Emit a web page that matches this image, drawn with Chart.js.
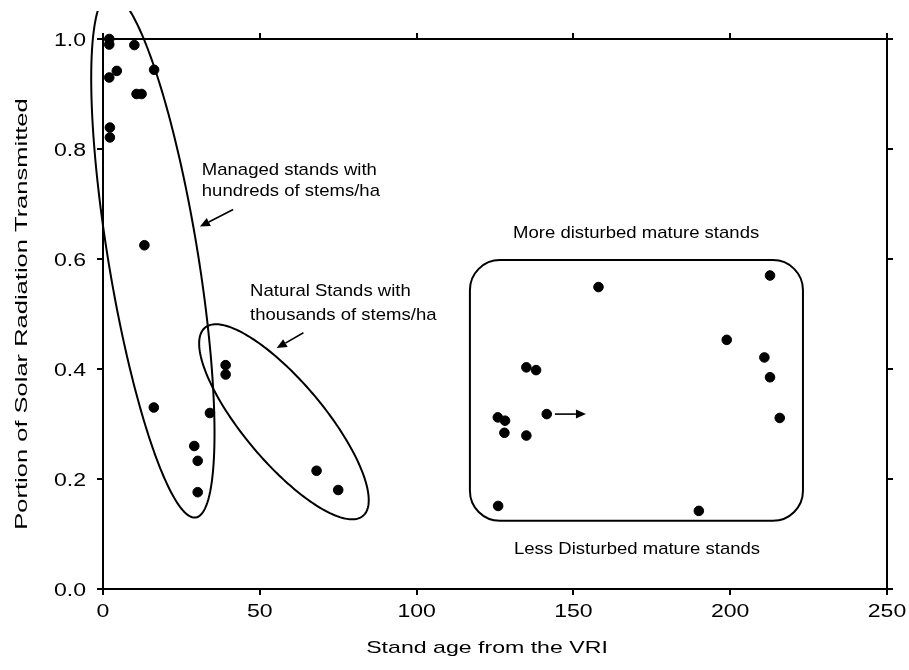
<!DOCTYPE html>
<html>
<head>
<meta charset="utf-8">
<script src="https://cdn.jsdelivr.net/npm/chart.js@4/dist/chart.umd.min.js"></script>
<style>
  html, body { margin: 0; padding: 0; background: #fff; }
  #wrap { width: 909px; height: 670px; }
</style>
</head>
<body>
<div id="wrap"><canvas id="standChart" width="909" height="670"></canvas></div>
<script>
// stand age (years, from the VRI) and fraction of solar radiation transmitted
var ages = [2, 2, 10, 2, 4.4, 16.3, 10.7, 12.3, 2.2, 2.2, 13.2, 16.2, 34.1, 39.1, 39.1,
  29.1, 30.2, 30.2, 68.1, 75, 212.7, 158, 198.9, 210.9, 212.7, 215.8, 135, 138.1,
  141.5, 125.9, 128.2, 128, 135, 126, 190];
var transmitted = [1.0, 0.99, 0.989, 0.93, 0.942, 0.944, 0.90, 0.90, 0.839, 0.821, 0.625,
  0.33, 0.32, 0.407, 0.39, 0.26, 0.233, 0.176, 0.215, 0.18, 0.57, 0.549, 0.453, 0.421,
  0.385, 0.311, 0.403, 0.398, 0.318, 0.312, 0.306, 0.284, 0.279, 0.151, 0.142];

var xTicks = [0, 50, 100, 150, 200, 250];
var yTicks = [0, 0.2, 0.4, 0.6, 0.8, 1.0];

var xTitle = 'Stand age from the VRI';
var yTitle = 'Portion of Solar Radiation Transmitted';

// group outlines, in data units: centre plus two conjugate half-axes
var managedRing = { cx: 15.9, cy: 0.606, ax: -13.7, ay: 0.476, bx: 14.1, by: 0.013 };
var naturalRing = { cx: 57.7, cy: 0.304, ax: 25.2, ay: -0.171, bx: 9.8, by: 0.047 };
var matureBox = { x0: 117, x1: 223.2, y0: 0.124, y1: 0.598 };

var pointers = [
  { from: [41.5, 0.690], to: [30.9, 0.659] },
  { from: [63.9, 0.466], to: [55.4, 0.438] },
  { from: [144.1, 0.318], to: [154.0, 0.318] }
];

var notes = [
  { text: 'Managed stands with', at: [31.5, 0.764], align: 'left' },
  { text: 'hundreds of stems/ha', at: [31.5, 0.725], align: 'left' },
  { text: 'Natural Stands with', at: [46.9, 0.544], align: 'left' },
  { text: 'thousands of stems/ha', at: [46.9, 0.500], align: 'left' },
  { text: 'More disturbed mature stands', at: [170, 0.6485], align: 'center' },
  { text: 'Less Disturbed mature stands', at: [170.3, 0.074], align: 'center' }
];

var FONT = "'Liberation Sans', Arial, sans-serif";

// text is set a little wide, as in the printed figure
function wideText(ctx, text, x, y, opt) {
  ctx.save();
  ctx.font = opt.size + 'px ' + FONT;
  ctx.textAlign = opt.align || 'center';
  ctx.textBaseline = 'alphabetic';
  ctx.translate(x, y);
  if (opt.vertical) ctx.rotate(-Math.PI / 2);
  ctx.scale(opt.stretch || 1, 1);
  // y is the middle of the capitals
  ctx.fillText(text, 0, opt.size * 0.358);
  ctx.restore();
}

var groupsPlugin = {
  id: 'groups',
  afterDatasetsDraw: function (chart) {
    var ctx = chart.ctx;
    var sx = chart.scales.x, sy = chart.scales.y;
    function px(v) { return sx.getPixelForValue(v); }
    function py(v) { return sy.getPixelForValue(v); }

    ctx.save();
    ctx.beginPath();
    ctx.rect(0, chart.chartArea.top - 28, chart.width, chart.height);
    ctx.clip();
    ctx.strokeStyle = '#000';
    ctx.fillStyle = '#000';
    ctx.lineWidth = 2;

    [managedRing, naturalRing].forEach(function (r) {
      ctx.beginPath();
      for (var i = 0; i <= 240; i++) {
        var t = i / 240 * Math.PI * 2;
        var X = px(r.cx + r.ax * Math.cos(t) + r.bx * Math.sin(t));
        var Y = py(r.cy + r.ay * Math.cos(t) + r.by * Math.sin(t));
        if (i === 0) ctx.moveTo(X, Y); else ctx.lineTo(X, Y);
      }
      ctx.closePath();
      ctx.stroke();
    });

    var bx0 = px(matureBox.x0), bx1 = px(matureBox.x1);
    var by0 = py(matureBox.y1), by1 = py(matureBox.y0);
    ctx.beginPath();
    ctx.roundRect(bx0, by0, bx1 - bx0, by1 - by0, 30);
    ctx.stroke();

    ctx.lineWidth = 1.6;
    pointers.forEach(function (a) {
      var x0 = px(a.from[0]), y0 = py(a.from[1]);
      var x1 = px(a.to[0]), y1 = py(a.to[1]);
      var ang = Math.atan2(y1 - y0, x1 - x0);
      var len = 10, half = 4.5;
      var bxp = x1 - len * Math.cos(ang), byp = y1 - len * Math.sin(ang);
      ctx.beginPath();
      ctx.moveTo(x0, y0);
      ctx.lineTo(bxp, byp);
      ctx.stroke();
      ctx.beginPath();
      ctx.moveTo(x1, y1);
      ctx.lineTo(bxp + half * Math.sin(ang), byp - half * Math.cos(ang));
      ctx.lineTo(bxp - half * Math.sin(ang), byp + half * Math.cos(ang));
      ctx.closePath();
      ctx.fill();
    });
    ctx.restore();

    ctx.fillStyle = '#000';
    notes.forEach(function (n) {
      wideText(ctx, n.text, px(n.at[0]), py(n.at[1]), { size: 17, stretch: 1.09, align: n.align });
    });
  },
  afterDraw: function (chart) {
    var ctx = chart.ctx;
    var sx = chart.scales.x, sy = chart.scales.y;
    ctx.fillStyle = '#000';
    xTicks.forEach(function (v) {
      wideText(ctx, String(v), sx.getPixelForValue(v), sx.top + 22, { size: 18, stretch: 1.28 });
    });
    yTicks.forEach(function (v) {
      wideText(ctx, v.toFixed(1), sy.right - 17, sy.getPixelForValue(v) + 1,
        { size: 18, stretch: 1.28, align: 'right' });
    });
    wideText(ctx, xTitle, (sx.left + sx.right) / 2 - 8, sx.top + 58, { size: 17, stretch: 1.36 });
    wideText(ctx, yTitle, 21, (sy.top + sy.bottom) / 2, { size: 17, stretch: 1.5, vertical: true });
  }
};

function edgeAxis(position, size, ticks, extra) {
  var axis = {
    type: 'linear',
    position: position,
    grid: { drawOnChartArea: false, drawTicks: true, tickLength: 6, color: '#000', lineWidth: 2 },
    border: { display: true, color: '#000', width: 2 },
    ticks: { display: false },
    afterBuildTicks: function (s) { s.ticks = ticks.map(function (v) { return { value: v }; }); },
    afterFit: function (s) {
      if (position === 'left' || position === 'right') s.width = size; else s.height = size;
    }
  };
  return Object.assign(axis, extra);
}

new Chart(document.getElementById('standChart').getContext('2d'), {
  type: 'scatter',
  data: {
    datasets: [{
      data: ages.map(function (a, i) { return { x: a, y: transmitted[i] }; }),
      backgroundColor: '#000',
      borderColor: '#000',
      pointRadius: 4.8,
      pointHoverRadius: 4.8,
      clip: false
    }]
  },
  options: {
    responsive: false,
    animation: false,
    devicePixelRatio: 1,
    layout: { padding: 0 },
    plugins: { legend: { display: false }, tooltip: { enabled: false } },
    scales: {
      x: edgeAxis('bottom', 81, xTicks, { min: 0, max: 250 }),
      x2: edgeAxis('top', 39, xTicks, { min: 0, max: 250 }),
      y: edgeAxis('left', 103, yTicks, { min: 0, max: 1 }),
      y2: edgeAxis('right', 22, yTicks, { min: 0, max: 1 })
    }
  },
  plugins: [groupsPlugin]
});
</script>
</body>
</html>
